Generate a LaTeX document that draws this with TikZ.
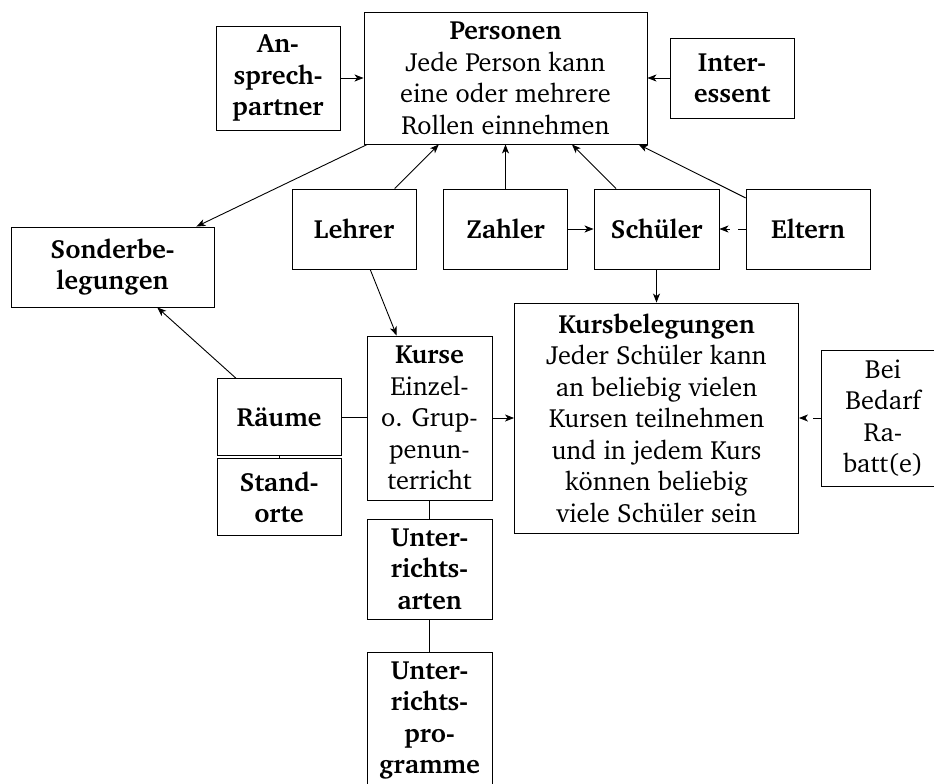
\documentclass[tikz,border=0pt]{standalone}
\usepackage[T1]{fontenc}
\usepackage{charter}
\usetikzlibrary{arrows.meta}
\tikzset{
  box/.style={draw, line width=0.9pt, align=center, inner sep=0pt,
    font=\fontsize{26.3}{31.5}\selectfont},
  arr/.style={line width=0.9pt, -{Stealth[length=9pt,width=7pt,inset=2.5pt]}},
  plain/.style={line width=0.9pt},
  dsh/.style={dash pattern=on 8pt off 8pt}
}
\begin{document}
\begin{tikzpicture}[x=1pt,y=-1pt]
\useasboundingbox (0,0) rectangle (934,784);
\clip (0,0) rectangle (934,784);
\node[box, minimum width=283pt, minimum height=132pt] (pers) at (505.5,78)
  {\textbf{Personen}\\Jede Person kann\\eine oder mehrere\\Rollen einnehmen};
\node[box, minimum width=124pt, minimum height=104pt] (ansp) at (278,78)
  {\textbf{An-}\\\textbf{sprech-}\\\textbf{partner}};
\node[box, minimum width=124pt, minimum height=80pt] (inter) at (732,78)
  {\textbf{Inter-}\\\textbf{essent}};
\node[box, minimum width=203pt, minimum height=80pt] (sonder) at (112.5,267)
  {\textbf{Sonderbe-}\\\textbf{legungen}};
\node[box, minimum width=124pt, minimum height=80pt] (lehrer) at (354,229)
  {\textbf{Lehrer}};
\node[box, minimum width=124pt, minimum height=80pt] (zahler) at (505.5,229)
  {\textbf{Zahler}};
\node[box, minimum width=125pt, minimum height=80pt] (schueler) at (656.5,229)
  {\textbf{Sch\"uler}};
\node[box, minimum width=124pt, minimum height=80pt] (eltern) at (808,229)
  {\textbf{Eltern}};
\node[box, minimum width=284pt, minimum height=230pt] (kursbel) at (656.5,418)
  {\textbf{Kursbelegungen}\\Jeder Sch\"uler kann\\an beliebig vielen\\Kursen teilnehmen\\und in jedem Kurs\\k\"onnen beliebig\\viele Sch\"uler sein};
\node[box, minimum width=124pt, minimum height=136pt] (rabatt) at (883,418)
  {Bei\\Bedarf\\Ra-\\batt(e)};
\node[box, minimum width=125pt, minimum height=164pt] (kurse) at (429.5,418)
  {\textbf{Kurse}\\Einzel-\\o. Grup-\\penun-\\terricht};
\node[box, minimum width=124pt, minimum height=77pt] (raeume) at (279,417)
  {\textbf{R\"aume}};
\node[box, minimum width=124pt, minimum height=77pt] (standorte) at (279,497)
  {\textbf{Stand-}\\\textbf{orte}};
\node[box, minimum width=125pt, minimum height=100pt] (uarten) at (429.5,569)
  {\textbf{Unter-}\\\textbf{richts-}\\\textbf{arten}};
\node[box, minimum width=125pt, minimum height=136pt] (uprog) at (429.5,720)
  {\textbf{Unter-}\\\textbf{richts-}\\\textbf{pro-}\\\textbf{gramme}};

\draw[arr] (ansp.east) -- (ansp.east -| pers.west);
\draw[arr] (inter.west) -- (inter.west -| pers.east);
\draw[arr] (pers) -- (sonder);
\draw[arr] (lehrer) -- (pers);
\draw[arr] (zahler) -- (pers);
\draw[arr] (schueler) -- (pers);
\draw[arr] (eltern) -- (pers);
\draw[arr] (zahler) -- (schueler);
\draw[arr,dsh] (eltern) -- (schueler);
\draw[arr] (schueler) -- (kursbel);
\draw[arr] (lehrer) -- (kurse);
\draw[arr] (raeume) -- (sonder);
\draw[plain] (raeume.east) -- (raeume.east -| kurse.west);
\draw[plain] (raeume) -- (standorte);
\draw[arr] (kurse) -- (kursbel);
\draw[arr,dsh] (rabatt) -- (kursbel);
\draw[plain] (kurse) -- (uarten);
\draw[plain] (uarten) -- (uprog);
\end{tikzpicture}
\end{document}
